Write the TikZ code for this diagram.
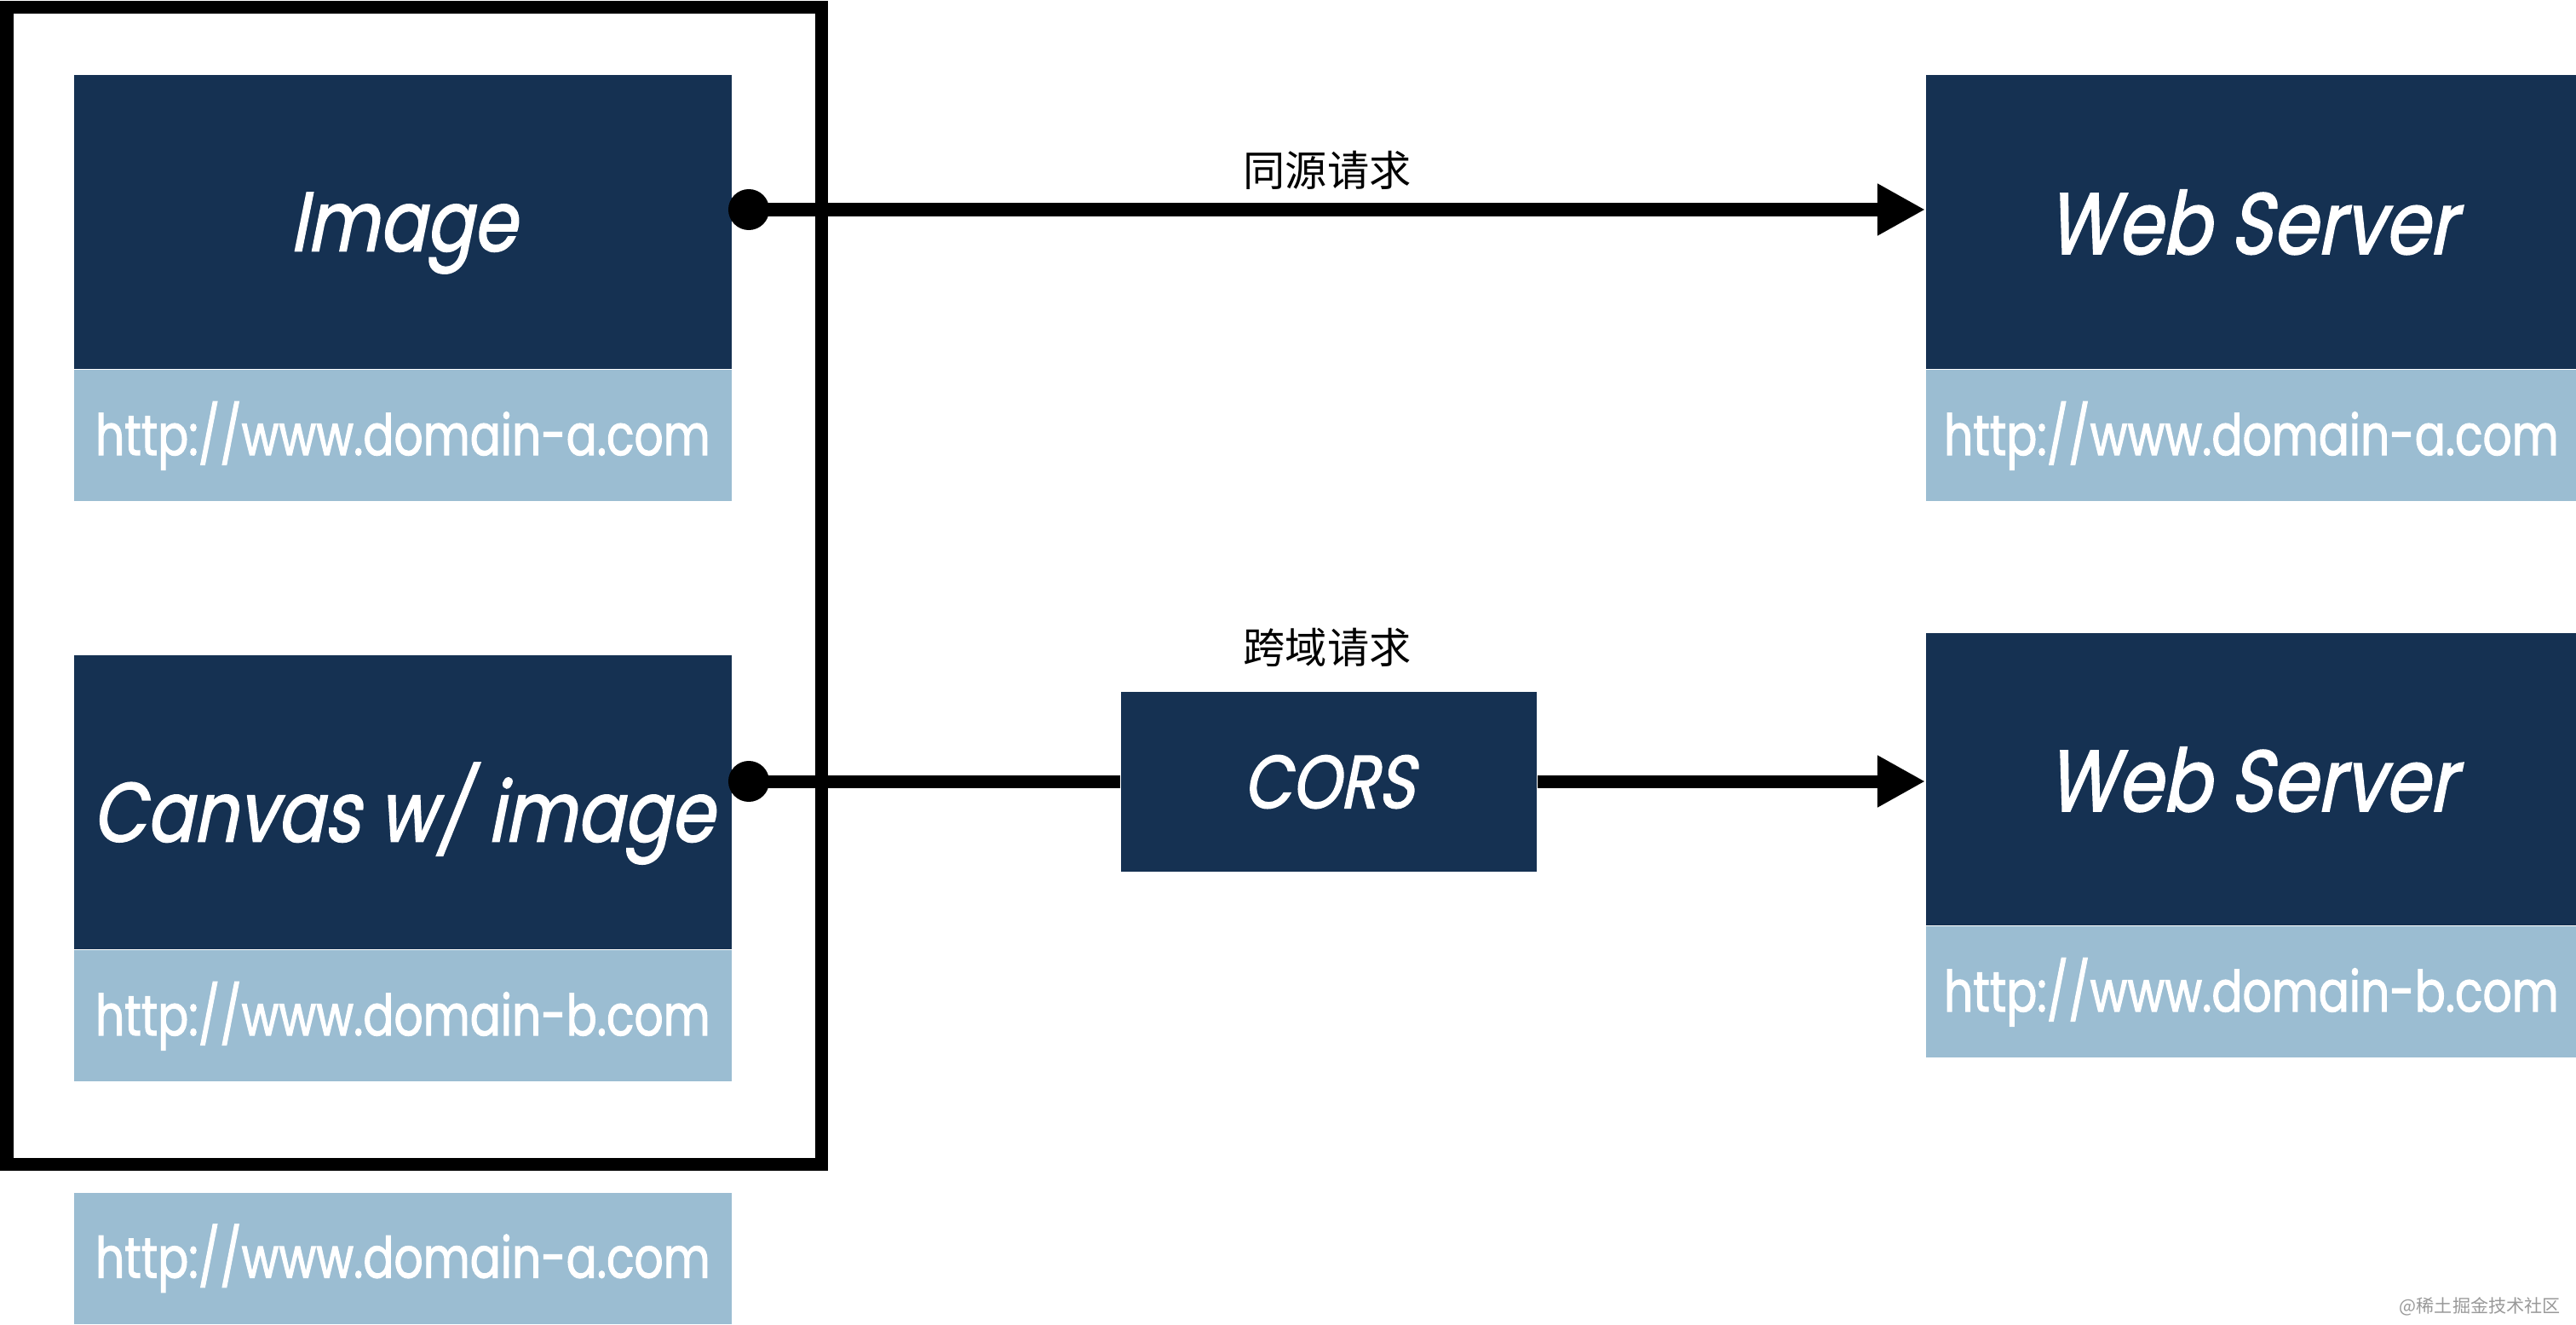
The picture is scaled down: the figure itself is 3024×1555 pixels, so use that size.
\documentclass[tikz,border=0pt]{standalone}
\usepackage{fontspec}
\usetikzlibrary{arrows.meta}
\setmainfont{Poppins}
\newfontfamily\boxfont[FakeSlant=0.2,FakeStretch=0.83,FakeBold=1.6]{Poppins}
\newfontfamily\urlfont[FakeStretch=0.8,FakeBold=1.6]{Poppins}
\newfontfamily\cjk{Noto Sans CJK SC}
\definecolor{navy}{RGB}{21,49,82}
\definecolor{sky}{RGB}{155,189,210}

\begin{document}
\begin{tikzpicture}[x=0.01cm,y=-0.01cm,
		titlebox/.style={fill=navy,text=white,inner sep=0,text depth=0pt,minimum width=7.72cm,minimum height=3.45cm,font=\boxfont\fontsize{28}{30}\selectfont},
		urlbox/.style={fill=sky,text=white,inner sep=0,minimum width=7.72cm,minimum height=1.54cm,font=\urlfont\fontsize{19}{21}\selectfont},
		link/.style={line width=0.15cm},
		flow/.style={link,-{Triangle[length=0.56cm,width=0.57cm]}}]
		\useasboundingbox (0,0) rectangle (3024,1555);
		% browser side
		\draw[line width=0.15cm] (8,9) rectangle (964,1366);
		\node[titlebox,anchor=north west] (img) at (86,87) {Image};
		\node[urlbox,anchor=north] (imgurl) at (img.south) {http://www.domain-a.com};
		\node[titlebox,anchor=north west] (cvs) at (86,768) {Canvas w/ image};
		\node[urlbox,anchor=north] (cvsurl) at (cvs.south) {http://www.domain-b.com};
		\node[urlbox,anchor=north west] (pageurl) at (86,1399) {http://www.domain-a.com};
		% servers
		\node[titlebox,anchor=north west,minimum width=7.64cm,font=\boxfont\fontsize{29}{31}\selectfont] (wsa) at (2260,87) {Web Server};
		\node[urlbox,anchor=north,minimum width=7.64cm] (wsaurl) at (wsa.south) {http://www.domain-a.com};
		\node[titlebox,anchor=north west,minimum width=7.64cm,minimum height=3.43cm,font=\boxfont\fontsize{29}{31}\selectfont] (wsb) at (2260,742) {Web Server};
		\node[urlbox,anchor=north,minimum width=7.64cm] (wsburl) at (wsb.south) {http://www.domain-b.com};
		\node[titlebox,anchor=north west,minimum width=4.88cm,minimum height=2.11cm,font=\boxfont\fontsize{25}{27}\selectfont] (cors) at (1315,811) {CORS};
		% requests
		\coordinate (dotA) at (879,246);
		\coordinate (dotB) at (879,917);
		\draw[flow] (dotA) -- (dotA -| wsa.west);
		\draw[link] (dotB) -- (dotB -| cors.west);
		\draw[flow] (dotB -| cors.east) -- (dotB -| wsb.west);
		\fill[color=black] (dotA) circle (0.24cm);
		\fill[color=black] (dotB) circle (0.24cm);
		\node[font=\cjk\fontsize{14}{16}\selectfont] (same) at (1558,200) {同源请求};
		\node[font=\cjk\fontsize{14}{16}\selectfont] (cross) at (1558,760) {跨域请求};
		\node[font=\cjk\fontsize{6}{7}\selectfont,text=black!40,anchor=east] (mark) at (3018,1533) {@稀土掘金技术社区};
\end{tikzpicture}
\end{document}
